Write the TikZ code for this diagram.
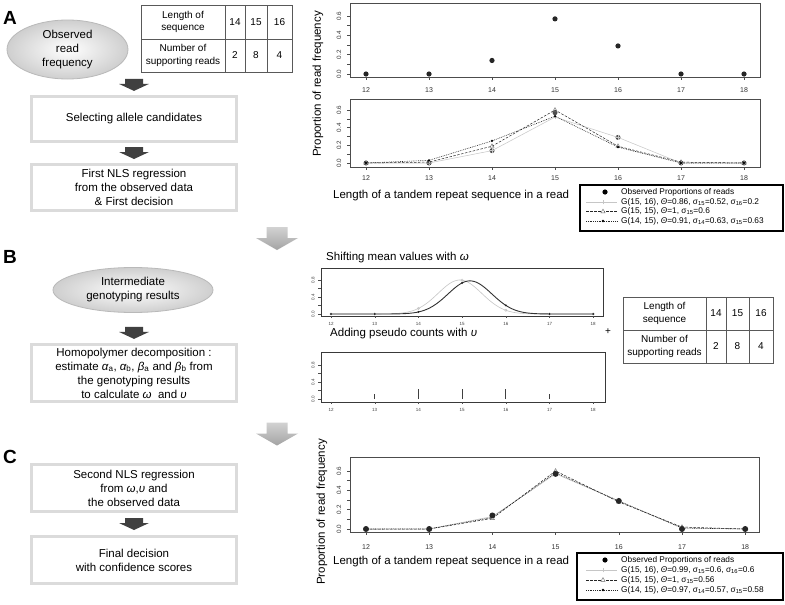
\documentclass[tikz,border=0pt]{standalone}
\usepackage{fontspec}
\setmainfont{Liberation Sans}
\usetikzlibrary{calc,shapes.geometric}
\newcommand{\sgm}[1]{σ\textsubscript{#1}}
\newcommand{\mytheta}{{\itshape Θ}}
\tikzset{
  flowbox/.style={draw=gray!28, line width=3.4pt, fill=white, align=center, font=\fontsize{11.5}{14}\selectfont, minimum width=205pt, inner sep=0pt},
  oval/.style={ellipse, draw=gray!55, line width=0.8pt, inner color=white, outer color=gray!38, align=center, font=\fontsize{11.5}{14}\selectfont, inner sep=0pt},
  secletter/.style={font=\fontsize{19}{19}\selectfont\bfseries, anchor=base west, inner sep=0pt},
  tabline/.style={draw=gray!70!black, line width=0.6pt},
  tabtext/.style={font=\fontsize{10}{12.3}\selectfont, align=center, inner sep=0pt},
  frame/.style={draw=gray!60!black, line width=0.75pt},
  bframe/.style={draw=gray!45!black, line width=1pt},
  axtick/.style={draw=gray!60!black, line width=0.5pt},
  ticklab/.style={font=\fontsize{7}{7}\selectfont, text=gray!40!black, inner sep=0pt},
  yticklab/.style={font=\fontsize{6.3}{6.3}\selectfont, text=gray!40!black, inner sep=0pt, rotate=90},
  smalllab/.style={font=\fontsize{4.5}{4.5}\selectfont, text=gray!50!black, inner sep=0pt},
  ysmalllab/.style={smalllab, rotate=90},
  axtitle/.style={font=\fontsize{11.5}{11.5}\selectfont, inner sep=0pt},
  legtext/.style={font=\fontsize{8.3}{8.3}\selectfont, anchor=west, inner sep=0pt},
  legbox/.style={draw=black, line width=1.8pt, fill=white},
  gcurve/.style={draw=gray!45, line width=0.5pt},
  dcurve/.style={draw=black!85, line width=0.5pt, dash pattern=on 2.5pt off 1.5pt},
  tcurve/.style={draw=black!85, line width=0.6pt, dash pattern=on 0.8pt off 1pt},
  darkarrow/.style={fill=black!75, draw=none},
  grayarrow/.style={top color=gray!35, bottom color=gray!72, draw=none},
}
\newcommand{\blockarrow}[1]{\fill[darkarrow] ($(#1)+(-9,-6)$) -- ++(18,0) -- ++(0,5) -- ++(6,0) -- ++(-15,7) -- ++(-15,-7) -- ++(6,0) -- cycle;}
\newcommand{\bigarrow}[1]{\shade[grayarrow] ($(#1)+(-10.5,-11.5)$) -- ++(21,0) -- ++(0,11) -- ++(10.5,0) -- ++(-21,12) -- ++(-21,-12) -- ++(10.5,0) -- cycle;}
\begin{document}
\begin{tikzpicture}[x=1pt,y=-1pt]
\fill[white] (0,0) rectangle (785,605);
\useasboundingbox (0,0) rectangle (785,605);

% section letters
\node[secletter] (lA) at (3,24) {A};
\node[secletter] (lB) at (3,263) {B};
\node[secletter] (lC) at (3,463) {C};

% ---------- Section A flow ----------
\node[oval, minimum width=121pt, minimum height=59pt] (e1) at (67.5,49.5) {Observed\\read\\frequency};
\node[flowbox, minimum height=44.8pt] (b1) at (134,119) {Selecting allele candidates};
\node[flowbox, minimum height=45.8pt] (b2) at (134,187.5) {First NLS regression\\from the observed data\\\& First decision};
\coordinate (a1) at ($(b1.north |- e1.south)+(0,5.5)$);
\coordinate (a2) at ($(b1.south)!0.5!(b2.north)$);
\blockarrow{a1}
\blockarrow{a2}

% table A
\draw[tabline] (141,5) rectangle (292,72);
\draw[tabline] (141,39) -- (292,39) (225,5) -- (225,72) (245,5) -- (245,72) (267,5) -- (267,72);
\node[tabtext] (tA11) at (183,22) {Length of\\sequence};
\node[tabtext] (tA12) at (235,22) {14};
\node[tabtext] (tA13) at (256,22) {15};
\node[tabtext] (tA14) at (279.5,22) {16};
\node[tabtext] (tA21) at (183,55.5) {Number of\\supporting reads};
\node[tabtext] (tA22) at (235,55.5) {2};
\node[tabtext] (tA23) at (256,55.5) {8};
\node[tabtext] (tA24) at (279.5,55.5) {4};

% gray section arrows
\coordinate (g1) at (277,238.5);
\bigarrow{g1}
\coordinate (g2) at (277,434);
\bigarrow{g2}

% ---------- Section B flow ----------
\node[oval, minimum width=160pt, minimum height=45pt] (e2) at (133,290) {Intermediate\\genotyping results};
\node[flowbox, minimum height=56.8pt] (b3) at (134,373) {Homopolymer decomposition :\\estimate {\itshape α}\textsubscript{a}, {\itshape α}\textsubscript{b}, {\itshape β}\textsubscript{a} and {\itshape β}\textsubscript{b} from\\the genotyping results\\to calculate {\itshape ω}\ \ and {\itshape υ}};
\coordinate (a3) at ($(b3.north)+(0,-10)$);
\blockarrow{a3}

% ---------- Section C flow ----------
\node[flowbox, minimum height=46.8pt] (b4) at (134,488) {Second NLS regression\\from {\itshape ω},{\itshape υ} and\\the observed data};
\node[flowbox, minimum height=46.8pt] (b5) at (134,560) {Final decision\\with confidence scores};
\coordinate (a4) at ($(b4.south)!0.5!(b5.north)$);
\blockarrow{a4}

% ---------- Plot A top ----------
\begin{scope}[shift={(366,74)}, x=63pt, y=96.7pt]
  \draw[frame] (-0.254,-0.031) rectangle (6.254,0.734);
  \foreach \v in {0,0.1,0.2,0.3,0.4,0.5,0.6} \draw[axtick] (-0.254,\v) -- ++(-3pt,0);
  \foreach \v in {0.0,0.2,0.4,0.6} \node[yticklab] at ($(-0.254,\v)+(-11pt,0)$) {\v};
  \foreach \i/\l in {0/12,1/13,2/14,3/15,4/16,5/17,6/18} {
    \draw[axtick] (\i,-0.031) -- ++(0,-3pt);
    \node[ticklab] at ($(\i,-0.031)+(0,-13pt)$) {\l};
  }
  \foreach \i/\p in {0/0,1/0,2/0.14,3/0.57,4/0.29,5/0,6/0} \fill[black!85] (\i,\p) circle (2.6pt);
\end{scope}

% ---------- Plot A bottom ----------
\begin{scope}[shift={(366,163)}, x=63pt, y=88.3pt]
  \draw[frame] (-0.254,-0.045) rectangle (6.254,0.725);
  \foreach \v in {0,0.1,0.2,0.3,0.4,0.5,0.6} \draw[axtick] (-0.254,\v) -- ++(-3pt,0);
  \foreach \v in {0.0,0.2,0.4,0.6} \node[yticklab] at ($(-0.254,\v)+(-11pt,0)$) {\v};
  \foreach \i/\l in {0/12,1/13,2/14,3/15,4/16,5/17,6/18} {
    \draw[axtick] (\i,-0.045) -- ++(0,-3pt);
    \node[ticklab] at ($(\i,-0.045)+(0,-11pt)$) {\l};
  }
  \foreach \i/\p in {0/0,1/0,2/0.14,3/0.57,4/0.29,5/0,6/0} \fill[gray!60!black] (\i,\p) circle (2.5pt);
  \draw[gcurve] (0,0) -- (1,0) -- (2,0.14) -- (3,0.52) -- (4,0.29) -- (5,0) -- (6,0);
  \draw[dcurve] (0,0) -- (1,0.01) -- (2,0.19) -- (3,0.6) -- (4,0.19) -- (5,0.01) -- (6,0);
  \draw[tcurve] (0,0) -- (1,0.03) -- (2,0.25) -- (3,0.53) -- (4,0.18) -- (5,0) -- (6,0);
  \foreach \i/\p in {0/0,1/0,2/0.14,3/0.52,4/0.29,5/0,6/0} \draw[gray!45, line width=0.5pt] (\i,\p) +(-2.3pt,0) -- +(2.3pt,0) +(0,-2.3pt) -- +(0,2.3pt);
  \foreach \i/\p in {0/0,1/0.01,2/0.19,3/0.6,4/0.19,5/0.01,6/0} \draw[black!60, line width=0.4pt] (\i,\p) +(0,2.4pt) -- +(-2.1pt,-1.3pt) -- +(2.1pt,-1.3pt) -- cycle;
  \foreach \i/\p in {0/0,1/0.03,2/0.25,3/0.53,4/0.18,5/0,6/0} \fill[black] (\i,\p) circle (1.3pt);
\end{scope}
\node[axtitle, rotate=90] (ytA) at (318,84) {Proportion of read frequency};
\node[axtitle, anchor=west] (xtA) at (333,196) {Length of a tandem repeat sequence in a read};

% legend A
\draw[legbox] (580,185) rectangle (783,231);
\fill[black] (605,192) circle (2.6pt);
\draw[gcurve] (586,202) -- (617,202);
\draw[gray!45, line width=0.5pt] (603,202) +(-2.3pt,0) -- +(2.3pt,0) +(0,-2.3pt) -- +(0,2.3pt);
\draw[dcurve] (586,211.5) -- (617,211.5);
\draw[black!60, line width=0.4pt, fill=white] (603,211.5) +(0,2.4pt) -- +(-2.1pt,-1.3pt) -- +(2.1pt,-1.3pt) -- cycle;
\draw[tcurve] (586,221) -- (617,221);
\fill[black] (603,221) circle (1.3pt);
\node[legtext] (lgA1) at (621,192) {Observed Proportions of reads};
\node[legtext] (lgA2) at (621,202) {G(15, 16), \mytheta=0.86, \sgm{15}=0.52, \sgm{16}=0.2};
\node[legtext] (lgA3) at (621,211.5) {G(15, 15), \mytheta=1, \sgm{15}=0.6};
\node[legtext] (lgA4) at (621,221) {G(14, 15), \mytheta=0.91, \sgm{14}=0.63, \sgm{15}=0.63};

% ---------- Plot B top ----------
\node[axtitle, anchor=west] (tB1) at (326,258) {Shifting mean values with {\itshape ω}};
\draw[bframe] (321,268) -- (603,268) -- (603,316) -- (321,316) -- cycle;
\begin{scope}[shift={(331,314)}, x=43.7pt, y=42.5pt]
  \foreach \v in {0,0.2,0.4,0.6,0.8} \draw[axtick, line width=0.4pt] (-0.229,\v) -- ++(-2.5pt,0);
  \foreach \v in {0.0,0.4,0.8} \node[ysmalllab] at ($(-0.229,\v)+(-8pt,0)$) {\v};
  \foreach \i/\l in {0/12,1/13,2/14,3/15,4/16,5/17,6/18} {
    \draw[axtick, line width=0.4pt] (\i,-0.047) -- ++(0,-2pt);
    \node[smalllab] at ($(\i,-0.047)+(0,-8pt)$) {\l};
  }
  \draw[gray!45, line width=0.6pt] plot[domain=0:6, samples=120] (\x,{0.8*exp(-1*((\x-2.95)^2)/0.5)});
  \draw[black!80, line width=0.9pt] plot[domain=0:6, samples=120] (\x,{0.78*exp(-1*((\x-3.18)^2)/0.5)});
  \foreach \i in {0,...,6} \draw[gray!50, line width=0.4pt] (\i,{0.8*exp(-1*((\i-2.95)^2)/0.5)}) circle (1.2pt);
  \foreach \i in {0,...,6} \fill[black!85] (\i,{0.78*exp(-1*((\i-3.18)^2)/0.5)}) circle (1.1pt);
\end{scope}

% ---------- Plot B bottom ----------
\node[axtitle, anchor=west] (tB2) at (330,334) {Adding pseudo counts with {\itshape υ}};
\draw[bframe] (321,352) -- (605,352) -- (605,402) -- (321,402) -- cycle;
\begin{scope}[shift={(331,399)}, x=43.7pt, y=42.5pt]
  \foreach \v in {0,0.2,0.4,0.6,0.8} \draw[axtick, line width=0.4pt] (-0.229,\v) -- ++(-2.5pt,0);
  \foreach \v in {0.0,0.4,0.8} \node[ysmalllab] at ($(-0.229,\v)+(-8pt,0)$) {\v};
  \foreach \i/\l in {0/12,1/13,2/14,3/15,4/16,5/17,6/18} {
    \draw[axtick, line width=0.4pt] (\i,-0.07) -- ++(0,-2pt);
    \node[smalllab] at ($(\i,-0.07)+(0,-8pt)$) {\l};
  }
  \foreach \i/\h in {1/0.12,2/0.24,3/0.24,4/0.24,5/0.12} \draw[black!75, line width=1.1pt] (\i,0) -- (\i,\h);
\end{scope}
\node[font=\fontsize{10}{10}\selectfont, inner sep=0pt] (plus) at (608,332) {+};

% table B
\draw[tabline] (623,297) rectangle (773,363);
\draw[tabline] (623,330) -- (773,330) (706,297) -- (706,363) (726,297) -- (726,363) (749,297) -- (749,363);
\node[tabtext] (tB11) at (664.5,313.5) {Length of\\sequence};
\node[tabtext] (tB12) at (716,313.5) {14};
\node[tabtext] (tB13) at (737.5,313.5) {15};
\node[tabtext] (tB14) at (761,313.5) {16};
\node[tabtext] (tB21) at (664.5,346.5) {Number of\\supporting reads};
\node[tabtext] (tB22) at (716,346.5) {2};
\node[tabtext] (tB23) at (737.5,346.5) {8};
\node[tabtext] (tB24) at (761,346.5) {4};

% ---------- Plot C ----------
\begin{scope}[shift={(366,529)}, x=63.2pt, y=96.7pt]
  \draw[frame] (-0.253,-0.031) rectangle (6.218,0.745);
  \foreach \v in {0,0.1,0.2,0.3,0.4,0.5,0.6} \draw[axtick] (-0.253,\v) -- ++(-3pt,0);
  \foreach \v in {0.0,0.2,0.4,0.6} \node[yticklab] at ($(-0.253,\v)+(-11pt,0)$) {\v};
  \foreach \i/\l in {0/12,1/13,2/14,3/15,4/16,5/17,6/18} {
    \draw[axtick] (\i,-0.031) -- ++(0,-3pt);
    \node[ticklab] at ($(\i,-0.031)+(0,-15pt)$) {\l};
  }
  \draw[gcurve] (0,0) -- (1,0) -- (2,0.13) -- (3,0.57) -- (4,0.29) -- (5,0.01) -- (6,0);
  \draw[dcurve] (0,0) -- (1,0) -- (2,0.11) -- (3,0.6) -- (4,0.28) -- (5,0.02) -- (6,0);
  \draw[tcurve] (0,0) -- (1,0.002) -- (2,0.12) -- (3,0.58) -- (4,0.29) -- (5,0.01) -- (6,0);
  \foreach \i/\p in {0/0,1/0,2/0.11,3/0.6,4/0.28,5/0.02,6/0} \draw[black!60, line width=0.4pt] (\i,\p) +(0,2.4pt) -- +(-2.1pt,-1.3pt) -- +(2.1pt,-1.3pt) -- cycle;
  \foreach \i/\p in {0/0,1/0,2/0.14,3/0.57,4/0.29,5/0,6/0} \fill[black!85] (\i,\p) circle (3pt);
\end{scope}
\node[axtitle, rotate=90] (ytC) at (322,512) {Proportion of read frequency};
\node[axtitle, anchor=west] (xtC) at (333,562) {Length of a tandem repeat sequence in a read};

% legend C
\draw[legbox] (577,553) rectangle (783,600);
\fill[black] (605,560) circle (2.6pt);
\draw[gcurve] (586,570) -- (617,570);
\draw[gray!45, line width=0.5pt] (603,570) +(-2.3pt,0) -- +(2.3pt,0) +(0,-2.3pt) -- +(0,2.3pt);
\draw[dcurve] (586,580) -- (617,580);
\draw[black!60, line width=0.4pt, fill=white] (603,580) +(0,2.4pt) -- +(-2.1pt,-1.3pt) -- +(2.1pt,-1.3pt) -- cycle;
\draw[tcurve] (586,590) -- (617,590);
\fill[black] (603,590) circle (1.3pt);
\node[legtext] (lgC1) at (621,560) {Observed Proportions of reads};
\node[legtext] (lgC2) at (621,570) {G(15, 16), \mytheta=0.99, \sgm{15}=0.6, \sgm{16}=0.6};
\node[legtext] (lgC3) at (621,580) {G(15, 15), \mytheta=1, \sgm{15}=0.56};
\node[legtext] (lgC4) at (621,590) {G(14, 15), \mytheta=0.97, \sgm{14}=0.57, \sgm{15}=0.58};
\end{tikzpicture}
\end{document}
